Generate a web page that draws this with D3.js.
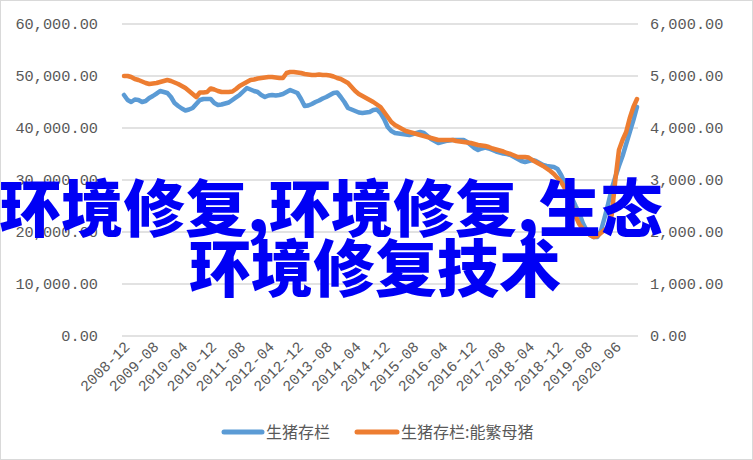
<!DOCTYPE html>
<html><head><meta charset="utf-8">
<script src="https://cdn.jsdelivr.net/npm/d3@7/dist/d3.min.js"></script>
<style>
html,body{margin:0;padding:0;background:#fff;}
svg{display:block;}
</style></head>
<body>
<svg id="chart" width="753" height="460"></svg>
<script>
// ---- data ----
const seriesNames = ["生猪存栏", "生猪存栏:能繁母猪"];
const leftTicks = [0, 10000, 20000, 30000, 40000, 50000, 60000];
const rightTicks = [0, 1000, 2000, 3000, 4000, 5000, 6000];
const tickLabels = ["2008-12","2009-08","2010-04","2010-12","2011-08","2012-04","2012-12","2013-08","2014-04","2014-12","2015-08","2016-04","2016-12","2017-08","2018-04","2018-12","2019-08","2020-06"];
const missingMonths = ["2020-01","2020-02"];
const hogStock = [
46350,45390,45000,45480,45390,45000,45190,45770,46150,46630,
47120,46920,46730,45960,44800,44230,43750,43370,43560,43850,
44620,45390,45580,45580,45580,44800,44420,44520,44710,44900,
45390,45870,46350,47020,47690,47400,47120,46920,46350,45960,
46250,46350,46250,46350,46540,46920,47300,47020,46730,45580,
44230,44330,44620,45000,45290,45670,45960,46350,46730,46830,
45960,45000,43850,43560,43270,42980,42880,42980,43080,43460,
43560,42880,41730,40190,39420,39040,38940,38850,38750,38650,
38850,39040,39230,39040,38460,37880,37500,37120,37310,37500,
37600,37690,37690,37690,37690,37310,36730,36150,35770,36060,
36250,36060,35770,35480,35290,35100,35000,34810,34420,34040,
33650,33460,33650,33850,33650,33270,32880,32690,32600,32500,
32120,30960,29420,27880,26540,25000,23650,21730,20380,19420,
19040,19040,20190,22690,25380,28270,30580,32690,34620,36920,
39230,41500,44040];
const sowStock = [
5000,5000,4981,4942,4923,4894,4865,4846,4856,4865,
4885,4904,4923,4904,4875,4846,4808,4769,4712,4654,
4596,4683,4683,4692,4760,4740,4712,4692,4692,4692,
4702,4750,4808,4846,4885,4923,4933,4952,4962,4971,
4981,4981,4971,4962,4962,5058,5077,5077,5067,5058,
5038,5029,5019,5019,5029,5019,5019,5010,4990,4962,
4942,4904,4865,4788,4712,4654,4615,4577,4538,4500,
4452,4404,4308,4212,4115,4058,4019,3981,3942,3923,
3904,3885,3865,3846,3827,3808,3788,3769,3769,3769,
3769,3769,3750,3740,3731,3721,3712,3692,3673,3663,
3654,3635,3606,3587,3567,3548,3519,3500,3471,3442,
3442,3442,3433,3385,3346,3308,3269,3221,3173,3115,
3038,2962,2846,2712,2519,2308,2154,2058,2000,1942,
1904,1923,1981,2038,2077,2327,3000,3577,3769,3923,
4192,4404,4558];
const overlayLines = ["环境修复,环境修复,生态", "环境修复技术"];

// categories: monthly labels from 2008-12 (some months absent in source)
const categories = [];
(function(){
  let y = 2008, m = 12;
  while (categories.length < hogStock.length) {
    const lab = y + "-" + String(m).padStart(2, "0");
    if (!missingMonths.includes(lab)) categories.push(lab);
    m++; if (m > 12) { m = 1; y++; }
  }
})();

// ---- drawing ----
const svg = d3.select("#chart");
const W = 753, H = 460;
const plot = {left: 124, right: 637, top: 24, bottom: 336};
const colors = ["#5b9bd5", "#ed7d31"];
const axisFont = "'Liberation Mono', 'DejaVu Sans Mono', monospace";
const cjkFont = "'Noto Sans CJK SC', 'Noto Sans', sans-serif";

svg.append("rect").attr("x", 0.5).attr("y", 0.5).attr("width", W - 1).attr("height", H - 1)
  .attr("fill", "#fff").attr("stroke", "#d9d9d9");

const x = d3.scalePoint().domain(categories).range([plot.left, plot.right]);
const yL = d3.scaleLinear().domain([0, 60000]).range([plot.bottom, plot.top]);
const yR = d3.scaleLinear().domain([0, 6000]).range([plot.bottom, plot.top]);

// gridlines
svg.append("g").selectAll("line").data(leftTicks).join("line")
  .attr("x1", 122).attr("x2", 638)
  .attr("y1", d => yL(d)).attr("y2", d => yL(d))
  .attr("stroke", "#d9d9d9").attr("stroke-width", 1.5);

const fmt = d3.format(",.2f");
// left axis
const gl = svg.append("g").attr("transform", `translate(98,0)`)
  .call(d3.axisLeft(yL).tickValues(leftTicks).tickSize(0).tickPadding(0).tickFormat(fmt));
gl.select(".domain").remove();
gl.selectAll("text").attr("font-family", axisFont).attr("font-size", 15.3).attr("fill", "#595959");

// right axis
const gr = svg.append("g").attr("transform", `translate(650,0)`)
  .call(d3.axisRight(yR).tickValues(rightTicks).tickSize(0).tickPadding(0).tickFormat(fmt));
gr.select(".domain").remove();
gr.selectAll("text").attr("font-family", axisFont).attr("font-size", 15.3).attr("fill", "#595959");

// x tick labels
svg.append("g").selectAll("text").data(tickLabels).join("text")
  .attr("transform", d => `translate(${x(d) + 3},${344}) rotate(-45)`)
  .attr("text-anchor", "end").attr("dy", "0.35em")
  .attr("font-family", axisFont).attr("font-size", 15).attr("fill", "#595959")
  .text(d => d);

// lines
const lineL = d3.line().x((d, i) => x(categories[i])).y(d => yL(d)).curve(d3.curveLinear);
const lineR = d3.line().x((d, i) => x(categories[i])).y(d => yR(d)).curve(d3.curveLinear);
svg.append("path").datum(hogStock).attr("d", lineL).attr("fill", "none")
  .attr("stroke", colors[0]).attr("stroke-width", 4.5).attr("stroke-linejoin", "round").attr("stroke-linecap", "round");
svg.append("path").datum(sowStock).attr("d", lineR).attr("fill", "none")
  .attr("stroke", colors[1]).attr("stroke-width", 4.5).attr("stroke-linejoin", "round").attr("stroke-linecap", "round");

// legend
const legendItems = [
  {x1: 224, x2: 262, tx: 266},
  {x1: 357, x2: 397, tx: 401}
];
const lg = svg.append("g");
legendItems.forEach((it, i) => {
  lg.append("line").attr("x1", it.x1).attr("x2", it.x2).attr("y1", 432).attr("y2", 432)
    .attr("stroke", colors[i]).attr("stroke-width", 5).attr("stroke-linecap", "round");
  lg.append("text").attr("x", it.tx).attr("y", 432).attr("dy", "0.35em")
    .attr("font-family", cjkFont).attr("font-size", 16).attr("fill", "#595959")
    .text(seriesNames[i]);
});

// overlay title text
const ov = svg.append("g");
ov.append("text").attr("x", 331).attr("y", 232).attr("text-anchor", "middle")
  .attr("font-family", cjkFont).attr("font-weight", 900).attr("font-size", 62).attr("fill", "#0000f5")
  .text(overlayLines[0]);
ov.append("text").attr("x", 375).attr("y", 292).attr("text-anchor", "middle")
  .attr("font-family", cjkFont).attr("font-weight", 900).attr("font-size", 62).attr("fill", "#0000f5")
  .text(overlayLines[1]);
</script>
</body></html>
